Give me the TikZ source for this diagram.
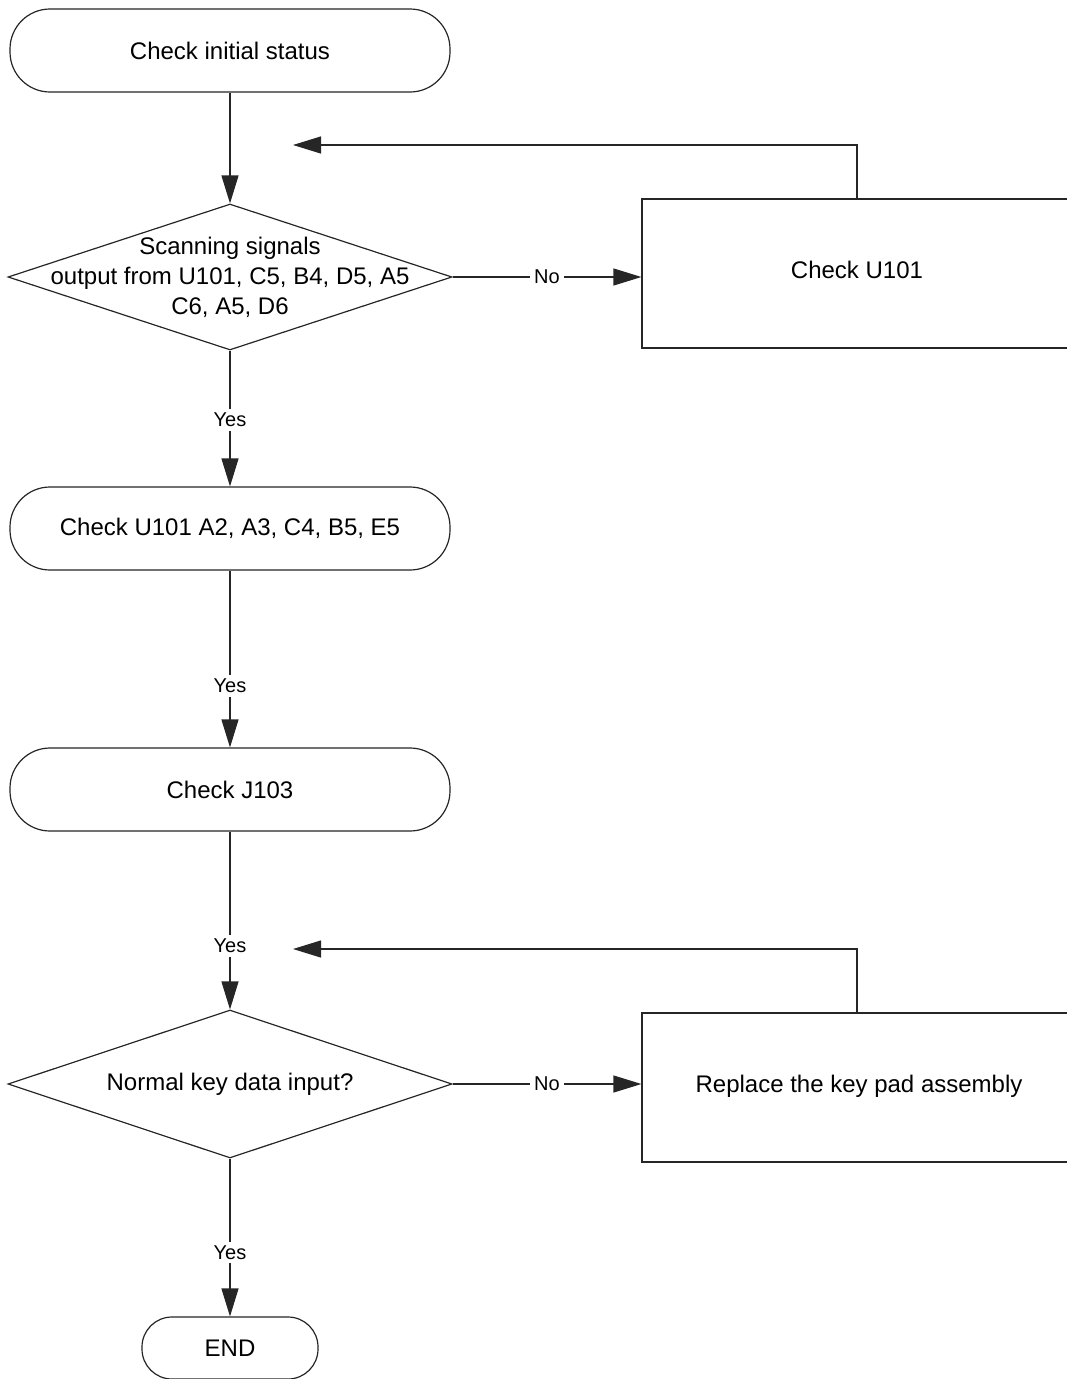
\documentclass[tikz,border=0pt]{standalone}
\usepackage{fontspec}
\setmainfont{Liberation Sans}
\usetikzlibrary{shapes.geometric,arrows.meta}
\begin{document}
\begin{tikzpicture}[x=1pt,y=-1pt, line width=1.2pt,
  term/.style={draw=black!85, rectangle, rounded corners=40pt, minimum width=440pt, minimum height=83pt, inner sep=0pt, font=\fontsize{24}{30}\selectfont},
  endterm/.style={draw=black!85, rectangle, rounded corners=30pt, minimum width=176pt, minimum height=62pt, inner sep=0pt, font=\fontsize{24}{30}\selectfont},
  dec/.style={draw=black!85, diamond, minimum width=444pt, minimum height=146pt, inner sep=0pt},
  txt/.style={align=center, inner sep=0pt, font=\fontsize{24}{30}\selectfont},
  procbox/.style={draw=black!85, rectangle, minimum width=430pt, minimum height=149pt, inner sep=0pt, font=\fontsize{24}{30}\selectfont},
  lbl/.style={fill=white, inner sep=4pt, font=\fontsize{20}{22}\selectfont},
  arr/.style={draw=black!85, -{Triangle[length=28pt,width=17pt]}}
]
\fill[white] (0,0) rectangle (1067,1379);
\useasboundingbox (0,0) rectangle (1067,1379);

\node[term] (t1) at (230,50.5) {Check initial status};
\node[dec] (d1) at (230,277) {};
\node[txt] (d1t) at (230,277) {Scanning signals\\output from U101, C5, B4, D5, A5\\C6, A5, D6};
\node[procbox] (b1) at (857,273.5) {};
\node[txt] (b1t) at (857,270) {Check U101};
\node[term] (t2) at (230,528.5) {Check U101 A2, A3, C4, B5, E5};
\node[term] (t3) at (230,789.5) {Check J103};
\node[dec, minimum height=148pt] (d2) at (230,1084) {};
\node[txt] (d2t) at (230,1084) {Normal key data input?};
\node[procbox] (b2) at (857,1087.5) {};
\node[txt] (b2t) at (859,1086) {Replace the key pad assembly};
\node[endterm] (e) at (230,1348) {END};

\coordinate (fb1) at (293,145);
\coordinate (fb2) at (293,949);

\draw[arr] (t1.south) -- (d1.north);
\draw[arr] (d1.east) -- node[lbl] (no1) {No} (d1.east -| b1.west);
\draw[arr] (b1.north) |- (fb1);
\draw[arr] (d1.south) -- node[lbl, pos=0.51] (y1) {Yes} (t2.north);
\draw[arr] (t2.south) -- node[lbl, pos=0.652] (y2) {Yes} (t3.north);
\draw[arr] (t3.south) -- node[lbl, pos=0.642] (y3) {Yes} (d2.north);
\draw[arr] (d2.east) -- node[lbl] (no2) {No} (d2.east -| b2.west);
\draw[arr] (b2.north) |- (fb2);
\draw[arr] (d2.south) -- node[lbl, pos=0.595] (y4) {Yes} (e.north);
\end{tikzpicture}
\end{document}
